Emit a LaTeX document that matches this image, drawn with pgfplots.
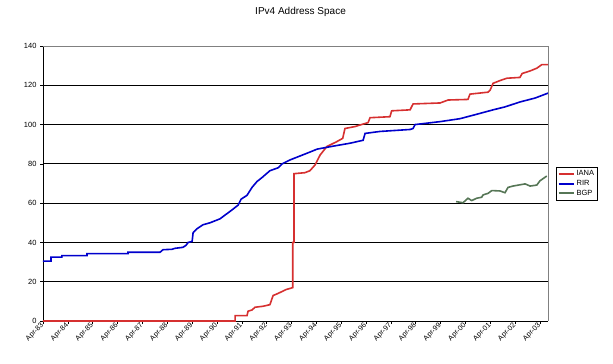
\documentclass[border=0pt]{standalone}
\usepackage{fontspec}
\setmainfont{Liberation Sans}
\usepackage{pgfplots}
\pgfplotsset{compat=1.18}
\definecolor{iana}{RGB}{214,48,48}
\definecolor{rir}{RGB}{0,0,204}
\definecolor{bgp}{RGB}{86,118,86}
\begin{document}
\begin{tikzpicture}
\begin{axis}[
  scale only axis,
  width=505pt, height=275pt,
  xmin=1983.25, xmax=2003.57,
  ymin=0, ymax=140,
  axis lines=left,
  axis line style={-, black, line width=0.8pt},
  xtick={1983.25,1984.25,...,2003.25},
  xticklabels={Apr-83,Apr-84,Apr-85,Apr-86,Apr-87,Apr-88,Apr-89,Apr-90,Apr-91,Apr-92,Apr-93,Apr-94,Apr-95,Apr-96,Apr-97,Apr-98,Apr-99,Apr-00,Apr-01,Apr-02,Apr-03},
  ytick={0,20,...,140},
  tick align=outside,
  major tick length=3pt,
  tick style={black, line width=0.6pt},
  ymajorgrids,
  grid style={black, line width=0.8pt},
  xticklabel style={rotate=45, anchor=east, font=\fontsize{7.2}{8}\selectfont, inner sep=0.5pt},
  yticklabel style={font=\fontsize{7.5}{8}\selectfont},
  /pgf/number format/assume math mode=true,
  title={IPv4 Address Space},
  title style={at={(0.51,1)}, anchor=center, yshift=28pt, font=\fontsize{10}{12}\selectfont},
  legend style={at={(1.016,0.56)}, anchor=north west, draw=black, font=\fontsize{7.5}{8}\selectfont, inner sep=1.5pt, row sep=-1pt, cells={anchor=west}},
  legend image code/.code={\draw[#1, line width=1.8pt] (0pt,0pt) -- (15pt,0pt);},
  clip=false,
]
\addplot[iana, line width=1.6pt] coordinates {
(1983.25,0) (1990.98,0) (1990.98,2.7) (1991.46,2.7) (1991.50,5) (1991.66,5.6) (1991.78,7) (1992.10,7.5) (1992.38,8.3) (1992.51,13) (1992.63,13.6) (1992.87,15) (1993.03,16) (1993.30,17) (1993.30,40) (1993.35,40) (1993.35,75) (1993.79,75.5) (1993.99,76.5) (1994.20,79.5) (1994.40,84.5) (1994.67,88.8) (1995.07,91.3) (1995.31,93) (1995.40,98) (1995.81,99) (1996.01,99.8) (1996.33,101) (1996.41,103.5) (1997.21,104) (1997.28,107) (1998.02,107.5) (1998.14,110.5) (1999.23,111) (1999.55,112.5) (2000.35,112.8) (2000.43,115.5) (2001.16,116.5) (2001.24,117.5) (2001.36,121) (2001.64,122.4) (2001.92,123.6) (2002.44,124) (2002.53,126) (2002.85,127.3) (2003.12,128.7) (2003.32,130.5) (2003.57,130.5)
};
\addlegendentry{IANA}
\addplot[rir, line width=1.6pt] coordinates {
(1983.25,30.5) (1983.57,30.5) (1983.57,32.5) (1984.01,32.5) (1984.01,33.3) (1985.02,33.3) (1985.02,34.3) (1986.67,34.3) (1986.67,35) (1987.96,35) (1988.08,36.3) (1988.44,36.5) (1988.56,37) (1988.88,37.5) (1989.00,38.5) (1989.09,40) (1989.25,40.5) (1989.29,45) (1989.45,47) (1989.69,49) (1989.97,50) (1990.37,52) (1990.69,55) (1990.90,57) (1991.10,59) (1991.22,62) (1991.46,64) (1991.66,68) (1991.86,71) (1992.06,73) (1992.38,76.5) (1992.71,78) (1992.87,80) (1993.19,82) (1993.59,84) (1993.99,86) (1994.28,87.5) (1994.92,89) (1995.60,90.5) (1996.13,92) (1996.21,95.5) (1996.81,96.5) (1998.02,97.5) (1998.14,98) (1998.22,100) (1999.23,101.5) (2000.03,103) (2000.63,105) (2001.36,107.5) (2001.84,109) (2002.44,111.5) (2003.05,113.5) (2003.57,116)
};
\addlegendentry{RIR}
\addplot[bgp, line width=1.6pt] coordinates {
(1999.87,60.8) (2000.15,60.2) (2000.35,62.5) (2000.50,61.3) (2000.70,62.5) (2000.90,63) (2000.96,64.2) (2001.16,65) (2001.31,66.4) (2001.64,66.2) (2001.84,65.3) (2001.96,68) (2002.16,68.7) (2002.65,69.8) (2002.85,68.7) (2003.12,69.2) (2003.25,71.4) (2003.52,73.8)
};
\addlegendentry{BGP}
\draw[gray, line width=0.8pt] (rel axis cs:0,1) -- (rel axis cs:1,1) -- (rel axis cs:1,0);
\end{axis}
\pgfresetboundingbox
\useasboundingbox (-43pt,-43pt) rectangle (570pt,321pt);
\end{tikzpicture}
\end{document}
